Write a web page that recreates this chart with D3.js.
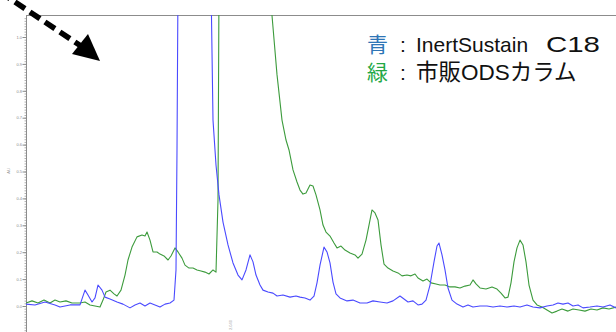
<!DOCTYPE html>
<html><head><meta charset="utf-8">
<script src="https://cdn.jsdelivr.net/npm/d3@7"></script>
<style>body{margin:0;background:#fff}svg{display:block}</style>
</head><body>
<svg id="c" width="616" height="332"></svg>
<script>
// retention time (min) and absorbance
const blueT=[0.00,0.09,0.19,0.29,0.34,0.44,0.54,0.59,0.62,0.66,0.69,0.72,0.76,0.79,0.84,0.91,0.97,1.04,1.09,1.14,1.19,1.24,1.29,1.34,1.39,1.44,1.48,1.50,1.51,1.52,1.55,1.84,1.85,1.87,1.90,1.93,1.97,2.02,2.07,2.12,2.16,2.20,2.24,2.27,2.30,2.34,2.37,2.42,2.47,2.51,2.57,2.64,2.70,2.74,2.79,2.84,2.88,2.91,2.94,2.98,3.01,3.04,3.07,3.10,3.14,3.21,3.27,3.34,3.41,3.47,3.54,3.61,3.67,3.74,3.78,3.82,3.87,3.92,3.96,4.00,4.04,4.08,4.11,4.13,4.16,4.19,4.22,4.26,4.31,4.37,4.42,4.47,4.54,4.61,4.67,4.74,4.81,4.88,4.94,5.01,5.07,5.14,5.21,5.27,5.32,5.37,5.42,5.47,5.52,5.57,5.64,5.71,5.77,5.84,5.90];
const blueV=[0.007,0.004,0.015,0.004,-0.004,0.004,0.004,0.059,0.041,0.015,0.030,0.078,0.059,0.033,0.026,0.015,0.007,-0.007,0.004,0.011,0.000,0.011,0.004,-0.004,0.007,0.011,0.022,0.134,0.58,1.20,1.60,1.60,1.20,0.691,0.524,0.413,0.312,0.227,0.160,0.115,0.097,0.134,0.190,0.164,0.115,0.078,0.059,0.052,0.048,0.037,0.041,0.033,0.037,0.033,0.030,0.022,0.037,0.086,0.152,0.219,0.201,0.160,0.089,0.045,0.030,0.019,0.022,0.011,0.011,0.019,0.015,0.011,0.019,0.037,0.026,0.015,0.019,0.004,0.007,0.022,0.078,0.164,0.223,0.234,0.190,0.134,0.067,0.022,0.007,-0.004,0.004,-0.004,0.000,0.000,-0.004,0.000,-0.004,0.000,-0.004,0.004,-0.004,-0.007,0.000,0.004,0.011,0.007,0.011,0.000,0.004,-0.007,-0.004,0.000,-0.004,0.004,-0.007];
const greenT=[0.00,0.06,0.12,0.18,0.24,0.29,0.34,0.40,0.46,0.54,0.59,0.64,0.69,0.74,0.77,0.80,0.84,0.88,0.91,0.95,0.99,1.02,1.06,1.11,1.16,1.19,1.21,1.24,1.27,1.31,1.34,1.38,1.42,1.45,1.49,1.52,1.56,1.59,1.63,1.67,1.71,1.75,1.79,1.83,1.87,1.90,1.92,1.93,1.95,2.40,2.46,2.51,2.56,2.60,2.63,2.67,2.71,2.74,2.77,2.80,2.84,2.87,2.90,2.94,2.97,3.00,3.04,3.08,3.11,3.15,3.19,3.24,3.29,3.32,3.36,3.40,3.43,3.46,3.49,3.52,3.55,3.58,3.62,3.67,3.72,3.76,3.81,3.85,3.89,3.92,3.97,4.01,4.05,4.10,4.14,4.19,4.24,4.29,4.34,4.39,4.44,4.47,4.50,4.54,4.60,4.66,4.71,4.75,4.79,4.82,4.85,4.88,4.91,4.94,4.97,5.00,5.03,5.07,5.11,5.16,5.21,5.26,5.31,5.36,5.42,5.47,5.53,5.59,5.65,5.71,5.77,5.83,5.90];
const greenV=[0.011,0.019,0.011,0.022,0.011,0.022,0.015,0.019,0.011,0.011,0.015,0.004,0.000,-0.004,0.022,0.052,0.059,0.045,0.037,0.059,0.115,0.171,0.219,0.257,0.264,0.260,0.275,0.245,0.201,0.201,0.193,0.186,0.171,0.186,0.216,0.201,0.178,0.152,0.141,0.141,0.134,0.130,0.126,0.119,0.134,0.126,0.394,1.20,1.80,1.80,1.08,0.86,0.691,0.617,0.580,0.506,0.461,0.431,0.416,0.420,0.450,0.446,0.413,0.357,0.301,0.275,0.260,0.234,0.216,0.223,0.208,0.197,0.190,0.178,0.193,0.245,0.301,0.357,0.346,0.320,0.227,0.156,0.141,0.130,0.123,0.112,0.115,0.112,0.119,0.104,0.093,0.100,0.086,0.082,0.078,0.078,0.071,0.071,0.067,0.074,0.078,0.097,0.082,0.067,0.063,0.071,0.063,0.048,0.030,0.033,0.086,0.164,0.216,0.245,0.227,0.164,0.078,0.022,0.004,-0.004,-0.015,-0.026,-0.019,-0.011,-0.019,-0.011,-0.015,-0.019,-0.011,-0.015,-0.007,-0.011,-0.004];
const yTickVals=[0,0.1,0.2,0.3,0.4,0.5,0.6,0.7,0.8,0.9,1.0];
const yTickLabels=["0.0","0.1","0.2","0.3","0.4","0.5","0.6","0.7","0.8","0.9","1.0"];
const legendKeys=["青","緑"];
const legendNames=[["InertSustain","C18"],["市販ODSカラム"]];
const rtLabel="2.040";

const svg=d3.select("#c");
const x=d3.scaleLinear().domain([0,5.9]).range([26,616]);
const y=d3.scaleLinear().domain([0,1]).range([306,37]);

svg.append("defs").append("clipPath").attr("id","clip")
  .append("rect").attr("x",26).attr("y",15).attr("width",590).attr("height",317);

// frame
svg.append("line").attr("x1",26).attr("x2",616).attr("y1",15.5).attr("y2",15.5)
  .attr("stroke","#8c8c8c").attr("stroke-width",1);

// y axis with minor ticks
const minor=d3.range(-10,108).map(i=>i/100);
const gMinor=svg.append("g").attr("transform","translate(26.5,0)")
  .call(d3.axisLeft(y).tickValues(minor.filter(v=>y(v)>=15)).tickSize(2).tickFormat(""));
gMinor.select(".domain").remove();
gMinor.selectAll("line").attr("stroke","#b0b0b0");
const gAx=svg.append("g").attr("transform","translate(26.5,0)")
  .call(d3.axisLeft(y).tickValues(yTickVals).tickSize(4).tickSizeOuter(0)
    .tickFormat((d,i)=>yTickLabels[i]));
gAx.select(".domain").attr("d","M0,15V332").attr("stroke","#8c8c8c");
gAx.selectAll("line").attr("stroke","#8c8c8c");
gAx.selectAll("text").attr("font-size",4).attr("fill","#888").attr("font-family","Liberation Sans, Arial").attr("x",-4.5);
svg.append("text").attr("transform","translate(10,171) rotate(-90)").attr("text-anchor","middle")
  .attr("font-size",4).attr("fill","#999").attr("font-family","Liberation Sans, Arial").text("AU");

// traces
const plot=svg.append("g").attr("clip-path","url(#clip)");
const line=d3.line().x(d=>x(d[0])).y(d=>y(d[1]));
plot.append("path").datum(greenT.map((t,i)=>[t,greenV[i]]))
  .attr("d",line).attr("fill","none").attr("stroke","#3c9b3c").attr("stroke-width",1.1).attr("stroke-linejoin","round");
plot.append("path").datum(blueT.map((t,i)=>[t,blueV[i]]))
  .attr("d",line).attr("fill","none").attr("stroke","#4a4aff").attr("stroke-width",1.1).attr("stroke-linejoin","round");

// retention-time annotation
svg.append("text").attr("transform",`translate(${x(2.04)+1.5},330) rotate(-90)`)
  .attr("font-size",4).attr("fill","#aaa").attr("font-family","Liberation Sans, Arial").text(rtLabel);

// legend
const keyColors=["#2e75b6","#22a845"];
legendKeys.forEach((k,i)=>{
  const t=svg.append("text").attr("y",52+i*28).attr("font-size",i===0?21:22.5)
    .attr("font-family","Liberation Sans, Arial, 'Noto Sans CJK JP'").attr("fill","#111");
  t.append("tspan").attr("x",367).attr("fill",keyColors[i]).attr("font-size",21).attr("font-family","'Noto Sans CJK JP'").text(k);
  t.append("tspan").attr("x",400).attr("font-size",21).text(":");
  t.append("tspan").attr("x",416).text(legendNames[i][0]);
  if(legendNames[i][1]) t.append("tspan").attr("x",546).attr("font-size",22.5)
    .attr("textLength",54).attr("lengthAdjust","spacingAndGlyphs").text(legendNames[i][1]);
});

// arrow
const ax1=0,ay1=-8,ax2=84,ay2=48;
svg.append("line").attr("x1",ax1).attr("y1",ay1).attr("x2",ax2).attr("y2",ay2)
  .attr("stroke","#000").attr("stroke-width",5.5).attr("stroke-dasharray","12,6");
svg.append("path").attr("d","M100,61 L72,54 L88,34 Z").attr("fill","#000");
</script>
</body></html>
